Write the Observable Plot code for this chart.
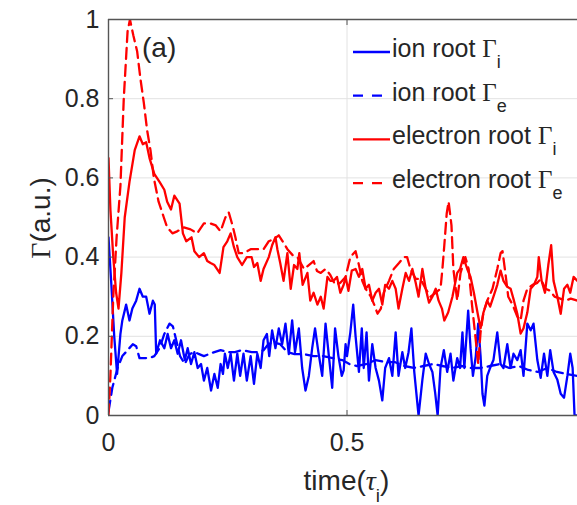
<!DOCTYPE html>
<html><head><meta charset="utf-8">
<script src="https://cdn.jsdelivr.net/npm/d3@7"></script>
<script src="https://cdn.jsdelivr.net/npm/@observablehq/plot@0.6"></script>
<style>body{margin:0;background:#fff}#c{width:577px;height:505px;overflow:hidden}</style>
</head><body><div id="c"></div><script>
// ion root Γi (blue solid)
const ionGiT = [0,0.006,0.012,0.018,0.025,0.029,0.037,0.044,0.050,0.058,0.065,0.072,0.079,0.086,0.093,0.097,0.100,0.108,0.117,0.124,0.131,0.138,0.145,0.152,0.160,0.166,0.173,0.180,0.187,0.194,0.200,0.207,0.215,0.222,0.229,0.235,0.240,0.244,0.250,0.256,0.263,0.270,0.276,0.283,0.290,0.298,0.305,0.312,0.319,0.325,0.332,0.337,0.343,0.350,0.357,0.364,0.371,0.378,0.385,0.391,0.399,0.406,0.413,0.420,0.427,0.433,0.440,0.448,0.455,0.462,0.469,0.475,0.482,0.489,0.493,0.497,0.500,0.507,0.513,0.518,0.525,0.531,0.535,0.541,0.546,0.553,0.560,0.567,0.574,0.580,0.588,0.595,0.602,0.608,0.616,0.622,0.629,0.635,0.641,0.650,0.658,0.665,0.672,0.679,0.685,0.690,0.696,0.703,0.710,0.717,0.723,0.731,0.737,0.742,0.746,0.754,0.759,0.764,0.770,0.775,0.780,0.784,0.788,0.794,0.800,0.807,0.815,0.822,0.828,0.836,0.843,0.849,0.857,0.864,0.870,0.878,0.885,0.891,0.899,0.906,0.913,0.920,0.926,0.933,0.941,0.948,0.955,0.962,0.968,0.973,0.977,0.983];
const ionGiV = [0.45,0.33,0.20,0.105,0.206,0.24,0.28,0.24,0.27,0.29,0.32,0.30,0.30,0.257,0.29,0.28,0.156,0.19,0.17,0.206,0.17,0.19,0.156,0.19,0.14,0.17,0.13,0.16,0.12,0.13,0.088,0.12,0.063,0.105,0.07,0.13,0.105,0.156,0.12,0.156,0.088,0.156,0.10,0.156,0.088,0.15,0.08,0.156,0.12,0.19,0.206,0.15,0.215,0.17,0.22,0.18,0.232,0.155,0.24,0.16,0.22,0.12,0.063,0.10,0.17,0.22,0.16,0.10,0.232,0.15,0.07,0.22,0.15,0.10,0.114,0.18,0.15,0.21,0.28,0.20,0.11,0.22,0.12,0.21,0.088,0.18,0.12,0.088,0.038,0.12,0.145,0.10,0.21,0.10,0.16,0.12,0.16,0.22,0.11,0.0,0.09,0.156,0.13,0.11,0.055,0.0,0.12,0.165,0.11,0.156,0.088,0.145,0.12,0.21,0.12,0.265,0.17,0.10,0.15,0.232,0.15,0.055,0.025,0.10,0.12,0.14,0.21,0.13,0.12,0.18,0.12,0.156,0.14,0.165,0.10,0.232,0.215,0.232,0.14,0.095,0.156,0.10,0.165,0.11,0.09,0.055,0.045,0.10,0.156,0.12,0.0,0.0];
// ion root Γe (blue dashed)
const ionGeT = [0,0.008,0.019,0.029,0.040,0.051,0.058,0.065,0.075,0.086,0.096,0.107,0.117,0.128,0.135,0.142,0.150,0.160,0.170,0.180,0.190,0.200,0.211,0.222,0.235,0.250,0.265,0.280,0.300,0.315,0.325,0.335,0.345,0.360,0.375,0.390,0.410,0.430,0.450,0.470,0.490,0.505,0.520,0.540,0.560,0.580,0.600,0.620,0.640,0.660,0.680,0.700,0.720,0.740,0.760,0.780,0.800,0.820,0.840,0.860,0.880,0.900,0.920,0.940,0.960,0.983];
const ionGeV = [0.01,0.07,0.12,0.15,0.165,0.18,0.175,0.145,0.145,0.145,0.15,0.17,0.206,0.232,0.225,0.19,0.15,0.13,0.155,0.16,0.155,0.15,0.155,0.16,0.165,0.16,0.16,0.165,0.16,0.16,0.165,0.18,0.185,0.18,0.16,0.155,0.155,0.15,0.15,0.145,0.14,0.13,0.125,0.13,0.14,0.135,0.135,0.125,0.12,0.125,0.13,0.125,0.12,0.125,0.12,0.12,0.125,0.13,0.12,0.125,0.115,0.11,0.12,0.11,0.105,0.10];
// electron root Γi (red solid)
const eleGiT = [0,0.004,0.010,0.016,0.021,0.027,0.034,0.044,0.055,0.065,0.072,0.079,0.086,0.096,0.107,0.117,0.123,0.131,0.138,0.149,0.156,0.163,0.174,0.180,0.190,0.200,0.207,0.214,0.222,0.233,0.241,0.249,0.256,0.263,0.270,0.280,0.290,0.300,0.305,0.312,0.319,0.325,0.336,0.343,0.350,0.354,0.360,0.367,0.375,0.382,0.389,0.396,0.400,0.407,0.417,0.423,0.430,0.438,0.445,0.451,0.459,0.465,0.472,0.479,0.486,0.493,0.497,0.503,0.510,0.518,0.525,0.532,0.539,0.546,0.553,0.560,0.567,0.574,0.580,0.588,0.595,0.602,0.608,0.616,0.623,0.630,0.637,0.644,0.650,0.658,0.665,0.672,0.679,0.686,0.692,0.699,0.704,0.712,0.721,0.731,0.737,0.744,0.752,0.759,0.766,0.774,0.780,0.786,0.794,0.800,0.807,0.815,0.822,0.828,0.836,0.843,0.850,0.857,0.864,0.870,0.878,0.885,0.892,0.899,0.902,0.908,0.915,0.922,0.928,0.933,0.941,0.948,0.955,0.962,0.968,0.975,0.983];
const eleGiV = [0.65,0.52,0.40,0.31,0.27,0.36,0.50,0.59,0.67,0.705,0.685,0.69,0.65,0.61,0.59,0.57,0.54,0.52,0.555,0.535,0.46,0.44,0.45,0.415,0.40,0.41,0.39,0.385,0.38,0.36,0.425,0.44,0.46,0.425,0.40,0.38,0.40,0.40,0.375,0.385,0.34,0.37,0.40,0.43,0.45,0.42,0.385,0.34,0.41,0.32,0.38,0.37,0.41,0.33,0.36,0.29,0.31,0.28,0.30,0.27,0.35,0.34,0.34,0.35,0.31,0.33,0.35,0.315,0.366,0.37,0.35,0.37,0.32,0.33,0.29,0.31,0.32,0.28,0.33,0.32,0.34,0.32,0.27,0.32,0.36,0.34,0.37,0.335,0.30,0.37,0.32,0.285,0.30,0.32,0.29,0.27,0.24,0.26,0.30,0.36,0.37,0.40,0.37,0.35,0.31,0.257,0.22,0.26,0.29,0.275,0.30,0.33,0.366,0.34,0.325,0.32,0.29,0.257,0.207,0.22,0.26,0.32,0.33,0.35,0.40,0.34,0.31,0.38,0.43,0.34,0.30,0.257,0.32,0.33,0.31,0.35,0.34];
// electron root Γe (red dashed)
const eleGeT = [0,0.004,0.010,0.017,0.025,0.032,0.040,0.045,0.052,0.060,0.067,0.074,0.081,0.088,0.095,0.105,0.116,0.123,0.134,0.144,0.158,0.172,0.186,0.200,0.214,0.225,0.235,0.245,0.252,0.260,0.266,0.273,0.283,0.298,0.312,0.325,0.336,0.346,0.357,0.365,0.375,0.386,0.396,0.410,0.420,0.430,0.437,0.445,0.455,0.465,0.475,0.486,0.497,0.507,0.518,0.525,0.532,0.539,0.550,0.557,0.564,0.571,0.577,0.588,0.598,0.609,0.619,0.626,0.633,0.644,0.654,0.665,0.675,0.686,0.696,0.700,0.704,0.709,0.713,0.719,0.723,0.731,0.738,0.748,0.755,0.762,0.770,0.775,0.780,0.786,0.794,0.805,0.815,0.822,0.826,0.832,0.838,0.847,0.857,0.864,0.870,0.878,0.889,0.899,0.906,0.916,0.926,0.935,0.947,0.958,0.969,0.983];
const eleGeV = [0.0,0.10,0.30,0.45,0.58,0.80,0.97,1.0,0.96,0.92,0.85,0.79,0.72,0.67,0.60,0.54,0.50,0.475,0.46,0.465,0.475,0.47,0.46,0.485,0.485,0.48,0.465,0.50,0.513,0.48,0.45,0.41,0.41,0.42,0.42,0.42,0.44,0.445,0.455,0.44,0.42,0.405,0.40,0.37,0.38,0.39,0.365,0.36,0.37,0.355,0.33,0.335,0.35,0.40,0.415,0.38,0.34,0.32,0.30,0.28,0.257,0.27,0.31,0.34,0.37,0.385,0.40,0.40,0.37,0.345,0.345,0.32,0.30,0.31,0.32,0.37,0.43,0.51,0.54,0.48,0.37,0.29,0.36,0.40,0.37,0.28,0.19,0.13,0.21,0.26,0.29,0.32,0.37,0.41,0.415,0.36,0.30,0.28,0.25,0.24,0.29,0.32,0.33,0.335,0.345,0.32,0.315,0.30,0.295,0.29,0.295,0.29];

const yTicks = [0, 0.2, 0.4, 0.6, 0.8, 1];
const yGrid = [0.2, 0.4, 0.6, 0.8];
const xTicks = [0, 0.5];
const xGrid = [0.5];
const legendNames = ["ion root ", "ion root ", "electron root ", "electron root "];
const legendSubs = ["i", "e", "i", "e"];
const legendColors = ["#0000ff", "#0000ff", "#ff0000", "#ff0000"];
const legendDashed = [false, true, false, true];

const rows = (t, v) => t.map((x, i) => ({t: x, v: v[i]}));
const axisCol = "#555";
const font = "'Liberation Sans', Arial, sans-serif";
const lw = 2.3;

const chart = Plot.plot({
  width: 577, height: 505,
  marginTop: 19, marginLeft: 108, marginRight: 0, marginBottom: 90,
  style: {fontFamily: font, fontSize: "25px", color: "#262626", background: "#fff"},
  x: {domain: [0, 0.9832]},
  y: {domain: [0, 1]},
  marks: [
    Plot.gridY(yGrid, {stroke: "#e2e2e2", strokeOpacity: 1}),
    Plot.gridX(xGrid, {stroke: "#e2e2e2", strokeOpacity: 1}),
    Plot.line(rows(ionGiT, ionGiV), {x: "t", y: "v", stroke: "#0000ff", strokeWidth: lw, clip: true}),
    Plot.line(rows(ionGeT, ionGeV), {x: "t", y: "v", stroke: "#0000ff", strokeWidth: lw, strokeDasharray: "11,6", clip: true}),
    Plot.line(rows(eleGiT, eleGiV), {x: "t", y: "v", stroke: "#ff0000", strokeWidth: lw, clip: true}),
    Plot.line(rows(eleGeT, eleGeV), {x: "t", y: "v", stroke: "#ff0000", strokeWidth: lw, strokeDasharray: "11,6", clip: true}),
    Plot.ruleY([0, 1], {stroke: axisCol, strokeWidth: 1.4}),
    Plot.ruleX([0], {stroke: axisCol, strokeWidth: 1.4}),
    Plot.axisY({ticks: yTicks, tickSize: -5, tickPadding: 14, tickFormat: d => String(d), label: null, stroke: axisCol}),
    Plot.axisX({ticks: xTicks, tickSize: -5, tickPadding: 23, tickFormat: d => String(d), label: null, stroke: axisCol}),
    Plot.axisX({anchor: "top", ticks: xGrid, tickSize: -5, tickFormat: () => "", label: null, stroke: axisCol})
  ]
});
document.getElementById("c").appendChild(chart);

const svg = d3.select(chart);
const sx = chart.scale("x");
const txtCol = "#262626";

// (a) annotation
svg.append("text").attr("x", 142).attr("y", 57).attr("text-anchor", "start")
  .attr("font-family", font).attr("font-size", 28).attr("fill", txtCol).text("(a)");

// y label
const yl = svg.append("text").attr("transform", "translate(50,218) rotate(-90)")
  .attr("text-anchor", "middle").attr("font-family", font).attr("font-size", 28).attr("fill", txtCol);
yl.append("tspan").attr("font-family", "'Liberation Serif', serif").text("Γ");
yl.append("tspan").text("(a.u.)");

// x label
const xl = svg.append("text").attr("x", sx.apply(0.5)).attr("y", 490)
  .attr("text-anchor", "middle").attr("font-family", font).attr("font-size", 28).attr("fill", txtCol);
xl.append("tspan").text("time(");
xl.append("tspan").attr("font-family", "'Liberation Serif', serif").attr("font-style", "italic").text("τ");
xl.append("tspan").attr("font-size", 19).attr("dy", 12).text("i");
xl.append("tspan").attr("dy", -12).text(")");

// legend
const lg = svg.append("g");
legendNames.forEach((name, i) => {
  const base = 57 + i * 43.7;
  lg.append("line").attr("x1", 353).attr("x2", 390).attr("y1", base - 5).attr("y2", base - 5)
    .attr("stroke", legendColors[i]).attr("stroke-width", lw)
    .attr("stroke-dasharray", legendDashed[i] ? "10,9" : null);
  const t = lg.append("text").attr("x", 392).attr("y", base).attr("text-anchor", "start")
    .attr("font-family", font).attr("font-size", 25).attr("fill", txtCol);
  t.append("tspan").text(name);
  t.append("tspan").attr("font-family", "'Liberation Serif', serif").text("Γ");
  t.append("tspan").attr("font-size", 18).attr("dy", 11).text(legendSubs[i]);
});
</script></body></html>
